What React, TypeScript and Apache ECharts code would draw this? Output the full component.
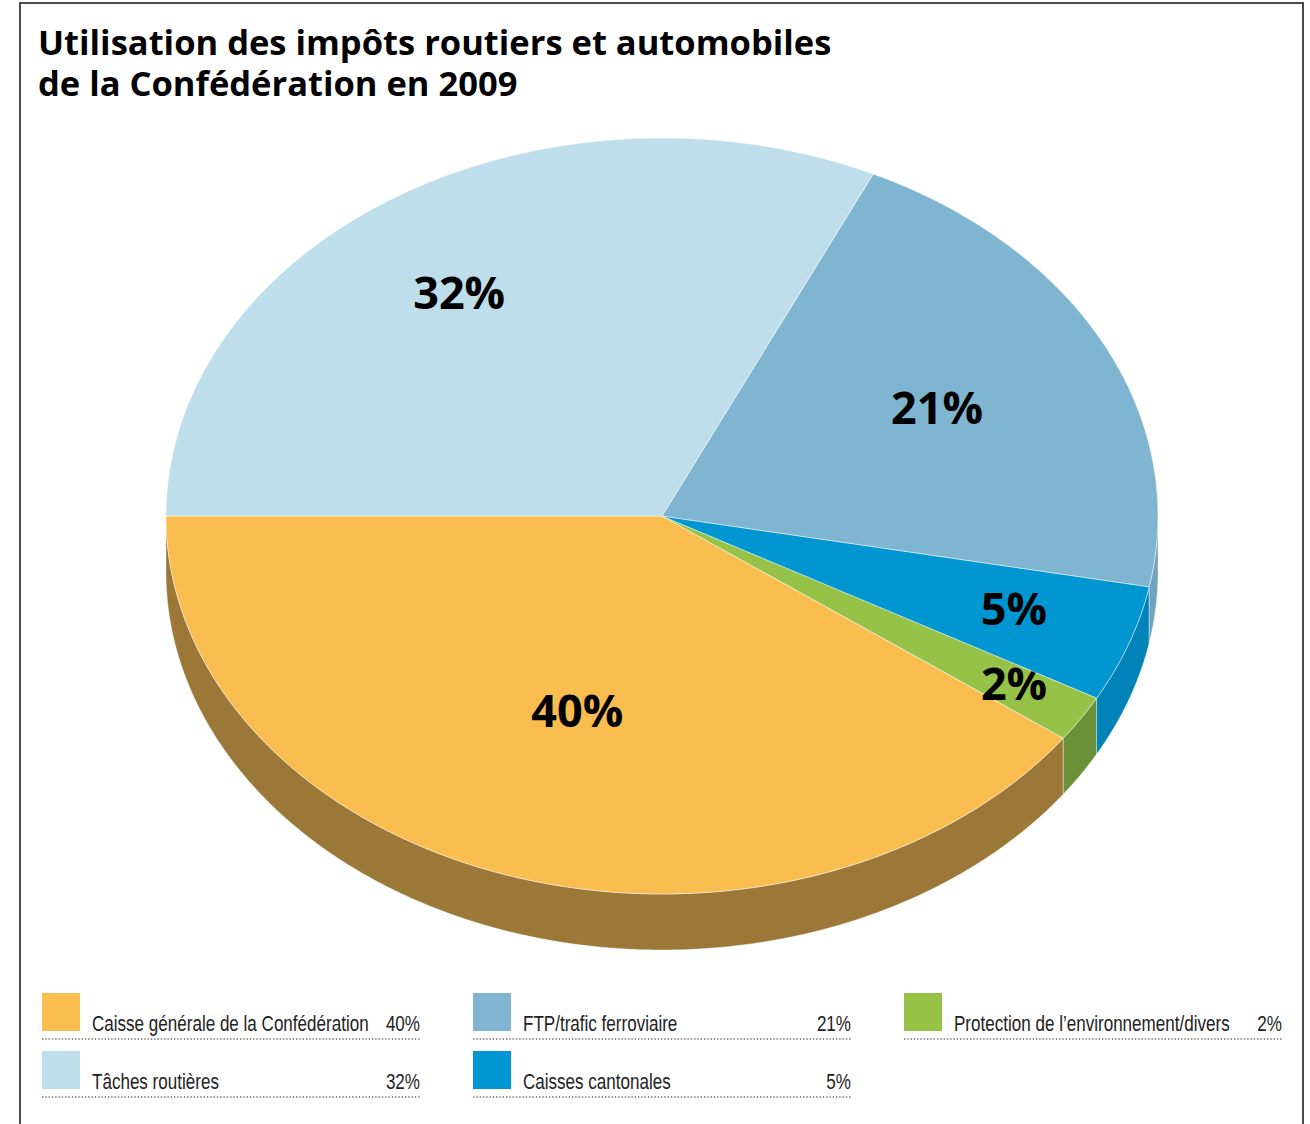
import React, { useEffect, useRef } from "react";
import * as echarts from "echarts";

// Shares of federal road and vehicle taxes, 2009 (percent), in drawing order
// (starting at 9 o'clock and running counter-clockwise).
const CATEGORIES = [
  "Caisse générale de la Confédération",
  "Protection de l’environnement/divers",
  "Caisses cantonales",
  "FTP/trafic ferroviaire",
  "Tâches routières",
];
const VALUES = [40, 2, 5, 21, 32];

const TOP_COLORS = ["#F8BC4F", "#97C248", "#0096D2", "#7FB5D0", "#BFDEEC"];
const SIDE_COLORS = ["#9B7838", "#6B9138", "#0083B8", "#6FA3BF", "#9FC3D6"];

// Legend slots, column by column (two rows per column).
const LEGEND_ORDER = [0, 4, 3, 2, 1];

// Label placement per slice: distance from centre (fraction of radius)
// and a small angular nudge in degrees.
const LABEL_RADIUS = [0.539, 0.836, 0.75, 0.625, 0.722];
const LABEL_NUDGE = [0.5, -0.5, -0.9, -0.5, -2.1];

const TITLE_LINES = ["Utilisation des impôts routiers et automobiles", "de la Confédération en 2009"];

// Pie geometry (tilted disc)
const CX = 662;
const CY = 516;
const RX = 496;
const RY = 378;
const DEPTH = 56;

const TOTAL = VALUES.reduce((a, b) => a + b, 0);
const CUM: number[] = [0];
VALUES.forEach((v, i) => CUM.push(CUM[i] + v));

const deg = Math.PI / 180;
const pt = (t: number, dy = 0): number[] => [CX + RX * Math.cos(t * deg), CY + RY * Math.sin(t * deg) + dy];

function arc(t0: number, t1: number, dy = 0): number[][] {
  const pts: number[][] = [];
  const steps = Math.max(2, Math.ceil(Math.abs(t1 - t0) / 0.5));
  for (let k = 0; k <= steps; k++) pts.push(pt(t0 + ((t1 - t0) * k) / steps, dy));
  return pts;
}

const renderSlice = (params: any, api: any) => {
  const i = params.dataIndex;
  const value = api.value(0);
  const tStart = 180 - (360 * CUM[i]) / TOTAL;
  const tEnd = tStart - (360 * value) / TOTAL;
  const children: any[] = [];

  // visible side wall: the front half of the disc (0..180 in screen angles)
  const lo = Math.max(tEnd, 0);
  const hi = Math.min(tStart, 180);
  if (hi > lo) {
    const top = arc(hi, lo);
    const bottom = arc(lo, hi, DEPTH);
    children.push({
      type: "polygon",
      shape: { points: top.concat(bottom) },
      style: { fill: SIDE_COLORS[i], stroke: "rgba(255,255,255,0.45)", lineWidth: 0.8 },
    });
  }

  // top face
  children.push({
    type: "polygon",
    shape: { points: [[CX, CY]].concat(arc(tStart, tEnd)) },
    style: { fill: TOP_COLORS[i], stroke: "rgba(255,255,255,0.6)", lineWidth: 0.8 },
  });

  const mid = (tStart + tEnd) / 2 + LABEL_NUDGE[i];
  const f = LABEL_RADIUS[i];
  children.push({
    type: "text",
    x: CX + RX * f * Math.cos(mid * deg),
    y: CY + RY * f * Math.sin(mid * deg),
    style: {
      text: `${value}%`,
      fill: "#000",
      font: "bold 45px 'Open Sans', sans-serif",
      align: "center",
      verticalAlign: "middle",
    },
  });

  return { type: "group", children };
};

function titleGraphics(): any[] {
  return TITLE_LINES.map((line, k) => ({
    type: "text",
    x: 38,
    y: 41 + k * 41,
    style: {
      text: line,
      fill: "#000",
      font: "bold 34.5px 'Open Sans', sans-serif",
      lineHeight: 36,
      align: "left",
      verticalAlign: "middle",
    },
  }));
}

function legendGraphics(): any[] {
  const els: any[] = [];
  // condensed look: regular face squeezed horizontally
  const font = "22px 'Liberation Sans', sans-serif";
  const squeeze = 0.775;
  LEGEND_ORDER.forEach((idx, slot) => {
    const col = Math.floor(slot / 2);
    const row = slot % 2;
    const x0 = 42 + col * 431;
    const x1 = x0 + 378;
    const y0 = 993 + row * 58;
    els.push({
      type: "rect",
      shape: { x: x0, y: y0, width: 38, height: 38 },
      style: { fill: TOP_COLORS[idx] },
    });
    els.push({
      type: "text",
      x: x0 + 50,
      y: y0 + 30,
      scaleX: squeeze,
      style: { text: CATEGORIES[idx], font, fill: "#222", align: "left", verticalAlign: "middle" },
    });
    els.push({
      type: "text",
      x: x1,
      y: y0 + 30,
      scaleX: squeeze,
      style: { text: `${VALUES[idx]}%`, font, fill: "#222", align: "right", verticalAlign: "middle" },
    });
    els.push({
      type: "line",
      shape: { x1: x0, y1: y0 + 46, x2: x1, y2: y0 + 46 },
      style: { stroke: "#666", lineWidth: 1.3, lineDash: [1.3, 2] },
    });
  });
  return els;
}

export default function App() {
  const ref = useRef<HTMLDivElement>(null);

  useEffect(() => {
    if (!ref.current) return;
    const chart = echarts.init(ref.current, undefined, { renderer: "svg" });
    chart.setOption({
      animation: false,
      backgroundColor: "#fff",
      graphic: [
        {
          type: "polyline",
          shape: { points: [[20, 1124], [20, 3], [1303, 3], [1303, 1124]] },
          style: { stroke: "#4a4a4a", lineWidth: 2, fill: "none" },
        },
        ...titleGraphics(),
        ...legendGraphics(),
      ],
      series: [
        {
          type: "custom",
          coordinateSystem: "none",
          renderItem: renderSlice,
          data: VALUES.map((v) => [v]),
        },
      ],
    });
    return () => chart.dispose();
  }, []);

  return (
    <div
      ref={ref}
      style={{ position: "absolute", left: 0, top: 0, width: 1310, height: 1124 }}
    />
  );
}
